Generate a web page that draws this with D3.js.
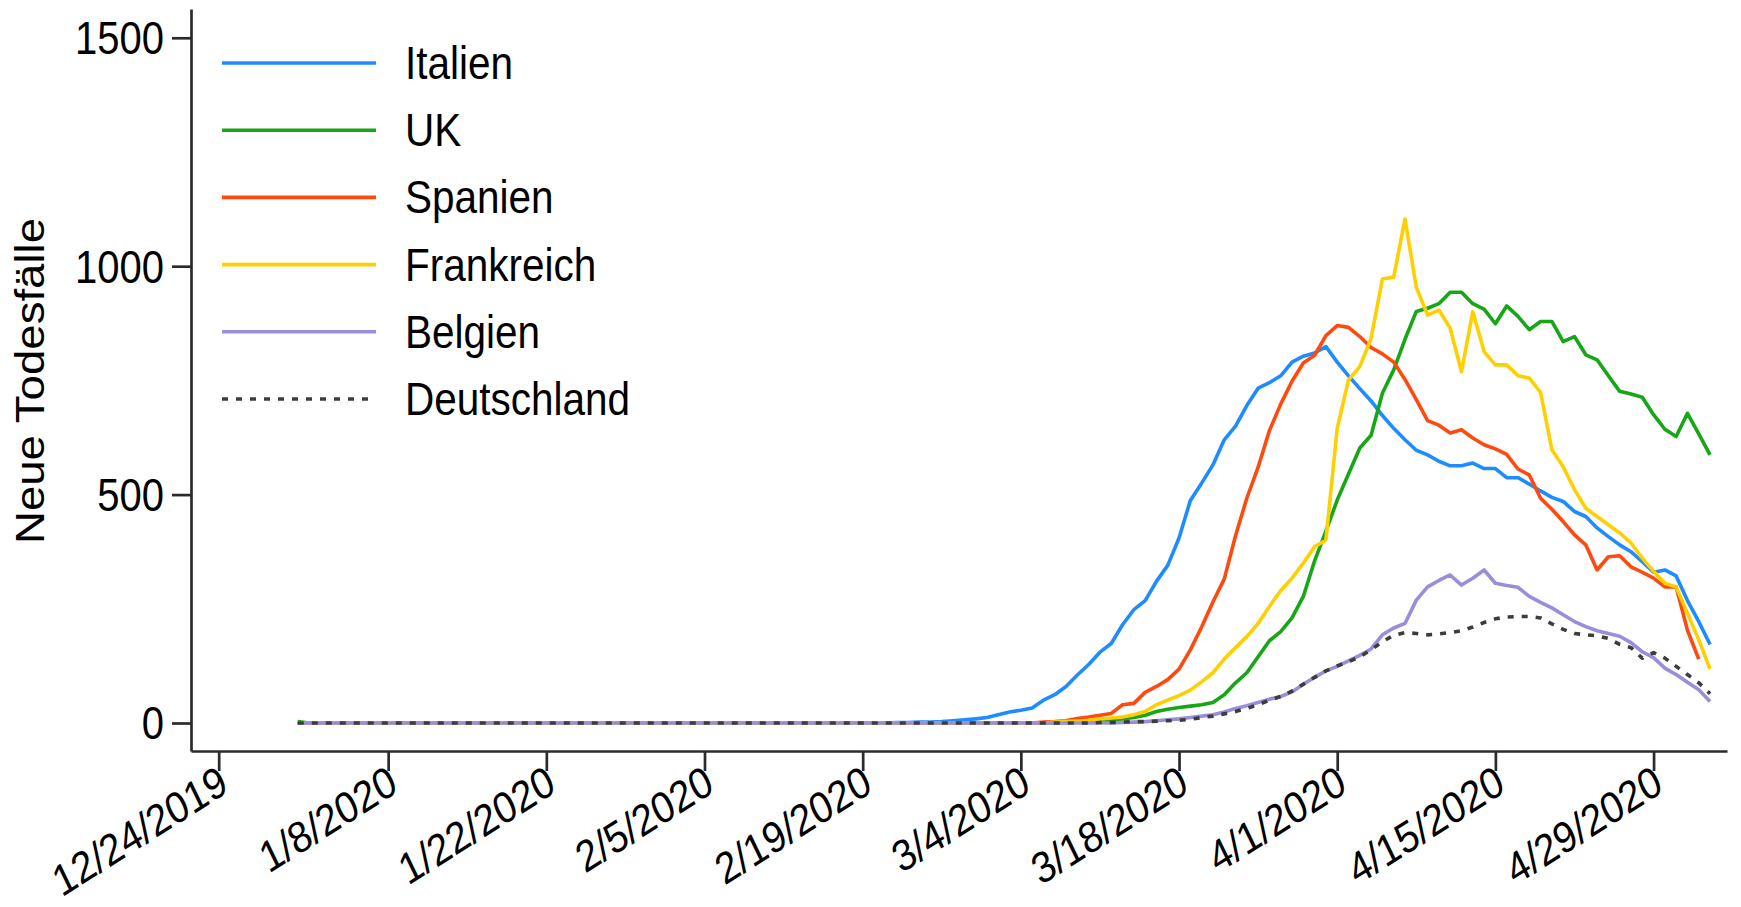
<!DOCTYPE html>
<html><head><meta charset="utf-8">
<script src="https://cdn.jsdelivr.net/npm/d3@7/dist/d3.min.js"></script>
<style>
body{margin:0;background:#fff;}
text{font-family:"Liberation Sans", Arial, sans-serif; fill:#000;}
</style>
</head><body>
<svg id="chart" width="1741" height="907"></svg>
<script>
// ---------- data ----------
const startDate = "2019-12-31";   // first day of every series (daily values)
const tickDates = ["2019-12-24","2020-01-08","2020-01-22","2020-02-05","2020-02-19",
                   "2020-03-04","2020-03-18","2020-04-01","2020-04-15","2020-04-29"];
const tickLabels = ["12/24/2019","1/8/2020","1/22/2020","2/5/2020","2/19/2020",
                    "3/4/2020","3/18/2020","4/1/2020","4/15/2020","4/29/2020"];
const yTicks = [0, 500, 1000, 1500];
const seriesNames = ["Italien","UK","Spanien","Frankreich","Belgien","Deutschland"];

const italien = [0,0,0,0,0,0,0,0,0,0, 0,0,0,0,0,0,0,0,0,0, 0,0,0,0,0,0,0,0,0,0,
  0,0,0,0,0,0,0,0,0,0, 0,0,0,0,0,0,0,0,0,0, 0,0,0,
  1,1,2,2,3,5,7,9,12,18,
  24,28,33,50,62,80,105,128,155,174,
  215,248,268,310,345,405,487,525,565,620,
  650,695,733,745,760,790,803,810,824,790,
  760,732,705,673,645,620,597,587,573,563,
  563,569,557,557,537,537,523,508,494,485,
  463,452,427,408,390,375,353,330,335,322,
  268,222,172];
const uk = [3,
  0,0,0,0,0,0,0,0,0,0, 0,0,0,0,0,0,0,0,0,0, 0,0,0,0,0,0,0,0,0,0,
  0,0,0,0,0,0,0,0,0,0, 0,0,0,0,0,0,0,0,0,0, 0,0,0,0,0,0,0,0,0,0,
  0,0,0,0,0,0,0,
  1,1,2,4,6,9,12,17,25,30,
  34,37,40,45,62,88,110,145,180,200,
  230,277,355,420,488,545,602,630,722,773,
  840,901,908,918,943,943,918,906,874,913,
  890,861,879,879,835,846,806,795,760,726,
  720,713,675,643,627,678,633,587];
const spanien = [0,0,0,0,0,0,0,0,0,0, 0,0,0,0,0,0,0,0,0,0, 0,0,0,0,0,0,0,0,0,0,
  0,0,0,0,0,0,0,0,0,0, 0,0,0,0,0,0,0,0,0,0, 0,0,0,0,0,0,0,0,0,0,
  0,0,0,0,0,0,
  2,3,5,10,13,17,21,40,43,67,
  80,95,118,160,210,265,315,410,492,560,
  640,698,748,788,805,848,870,866,846,822,
  808,790,752,708,662,652,635,642,624,609,
  600,588,556,543,492,468,441,412,390,335,
  364,366,342,330,317,298,298,203,140,
  null];
const frankreich = [0,0,0,0,0,0,0,0,0,0, 0,0,0,0,0,0,0,0,0,0, 0,0,0,0,0,0,0,0,0,0,
  0,0,0,0,0,0,0,0,0,0, 0,0,0,0,0,0,0,0,0,0, 0,0,0,0,0,0,0,0,0,0,
  0,0,0,0,0,0,0,
  2,3,4,6,9,11,13,18,25,40,
  50,60,72,90,110,140,165,189,218,255,
  290,317,350,386,400,645,751,780,842,972,
  976,1103,954,893,904,864,769,900,813,784,
  784,760,755,724,598,561,511,470,452,434,
  416,394,361,332,306,298,240,182,118];
const belgien = [0,0,0,0,0,0,0,0,0,0, 0,0,0,0,0,0,0,0,0,0, 0,0,0,0,0,0,0,0,0,0,
  0,0,0,0,0,0,0,0,0,0, 0,0,0,0,0,0,0,0,0,0, 0,0,0,0,0,0,0,0,0,0,
  0,0,0,0,0,0,0,0,0,0, 0,0,0,
  1,2,3,5,7,9,12,15,18,24,
  32,38,45,52,58,68,85,100,114,124,
  136,148,162,193,208,218,269,298,312,324,
  302,317,335,306,301,297,277,264,252,237,
  222,211,202,196,190,176,156,143,120,106,
  89,73,47];
const deutschland = [0,0,0,0,0,0,0,0,0,0, 0,0,0,0,0,0,0,0,0,0, 0,0,0,0,0,0,0,0,0,0,
  0,0,0,0,0,0,0,0,0,0, 0,0,0,0,0,0,0,0,0,0, 0,0,0,0,0,0,0,0,0,0,
  0,0,0,0,0,0,0,0,0,0, 0,
  1,1,2,3,3,4,5,6,8,12,
  15,20,25,32,40,50,58,70,85,100,
  114,125,134,145,160,178,192,198,196,193,
  195,198,202,210,220,228,232,233,233,230,
  217,205,196,193,191,185,172,165,142,154,
  142,124,106,88,64];

const seriesValues = [italien, uk, spanien, frankreich, belgien, deutschland];
const seriesColors = ["#1E8CFF","#16A616","#FF4A0F","#FFD000","#9A8EDB","#3c3c3c"];
const seriesDash   = [null,null,null,null,null,"6,8"];

// ---------- layout ----------
(function () {
const svg = d3.select("#chart");
const STRETCH = 1.14;           // vertical stretch of text seen in the reference
const FS = 40;
const pLeft = 191, pRight = 1727, pTop = 9, pBottom = 751;
const DAY = 864e5;

const start = new Date(startDate + "T00:00:00Z");
const days = d3.range(italien.length).map(i => new Date(start.getTime() + i*DAY));

const x = d3.scaleUtc()
  .domain([new Date(Date.UTC(2019,11,24) - 2.45*DAY), new Date(Date.UTC(2020,3,29) + 6.5*DAY)])
  .range([pLeft, pRight]);
const y = d3.scaleLinear().domain([-61.3, 1563]).range([pBottom, pTop]);

// lines
const line = d3.line()
  .defined(v => v !== null)
  .x((v,i) => x(days[i]))
  .y(v => y(v));

seriesValues.forEach((vals, k) => {
  svg.append("path")
    .datum(vals)
    .attr("d", line)
    .attr("fill","none")
    .attr("stroke", seriesColors[k])
    .attr("stroke-width", 3.6)
    .attr("stroke-linejoin","round")
    .attr("stroke-dasharray", seriesDash[k]);
});

// x axis
const xAxis = d3.axisBottom(x)
  .tickValues(tickDates.map(d => new Date(d + "T00:00:00Z")))
  .tickSize(20).tickSizeOuter(0)
  .tickFormat((d,i) => tickLabels[i]);
const gx = svg.append("g").attr("transform", `translate(0,${pBottom})`).call(xAxis);
gx.selectAll("text")
  .attr("x", 0).attr("y", 0).attr("dy", null)
  .attr("text-anchor","end")
  .style("font-size", "38.5px")
  .attr("transform", `translate(11,40) scale(1,${STRETCH}) rotate(-29)`);

// y axis
const yAxis = d3.axisLeft(y).tickValues(yTicks).tickSize(19).tickSizeOuter(0)
  .tickFormat(d3.format("d"));
const gy = svg.append("g").attr("transform", `translate(${pLeft},0)`).call(yAxis);
gy.selectAll("text")
  .attr("x", 0).attr("dy", "0.35em")
  .attr("text-anchor","end")
  .style("font-size", FS + "px")
  .attr("transform", `translate(-27,0) scale(1,${STRETCH})`);

[gx, gy].forEach(g => {
  g.select(".domain").attr("stroke","#2b2b2b").attr("stroke-width",2.7);
  g.selectAll(".tick line").attr("stroke","#2b2b2b").attr("stroke-width",2.7);
  g.selectAll("text").attr("fill","#000").style("font-family",'"Liberation Sans", Arial, sans-serif');
});

// y axis title
svg.append("text")
  .attr("text-anchor","middle")
  .style("font-size","40px")
  .attr("transform", `translate(44,381) scale(1,${STRETCH}) rotate(-90)`)
  .text("Neue Todesfälle");

// legend
const legY = d3.scaleLinear().domain([0, 5]).range([63, 399]);
const leg = svg.append("g");
seriesNames.forEach((name, k) => {
  leg.append("line")
    .attr("x1", 222).attr("x2", 376)
    .attr("y1", legY(k)).attr("y2", legY(k))
    .attr("stroke", seriesColors[k]).attr("stroke-width", 3.6)
    .attr("stroke-dasharray", seriesDash[k]);
  leg.append("text")
    .style("font-size", "40.5px")
    .attr("transform", `translate(405,${legY(k) + 16}) scale(1,${STRETCH})`)
    .text(name);
});
})();
</script>
</body></html>
